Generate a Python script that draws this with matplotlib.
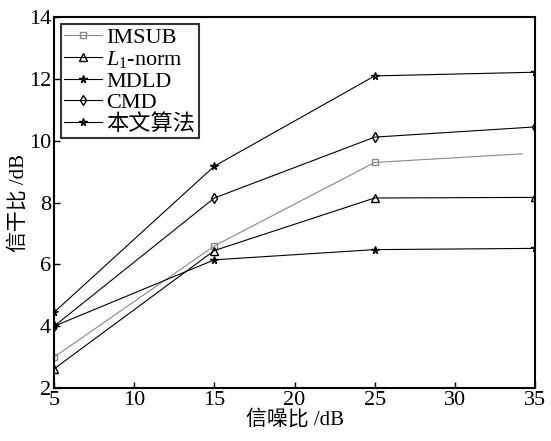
import matplotlib
matplotlib.use("Agg")
import matplotlib.pyplot as plt

snr = [5, 15, 25, 35]
imsub_snr = [5, 15, 25, 34.2]
imsub = [3.0, 6.6, 9.3, 9.58]
l1norm = [2.62, 6.45, 8.15, 8.17]
mdld = [4.0, 6.15, 6.48, 6.52]
cmd = [4.0, 8.15, 10.12, 10.45]
ours = [4.45, 9.18, 12.1, 12.22]
labels = ["IMSUB", r"$L_1$-norm", "MDLD", "CMD", "本文算法"]

plt.rcParams['font.family'] = ['Liberation Serif', 'Noto Sans CJK SC']
plt.rcParams['mathtext.fontset'] = 'custom'
plt.rcParams['mathtext.it'] = 'Liberation Serif:italic'
plt.rcParams['mathtext.rm'] = 'Liberation Serif'

fig = plt.figure(figsize=(5.51, 4.41), dpi=100)
ax = fig.add_axes([0.098, 0.12, 0.873, 0.841])

ms = 4.5
ax.plot(imsub_snr, imsub, color='#888888', lw=0.8, marker='s', ms=ms, mfc='none', mec='#888888', markevery=[0, 1, 2], label=labels[0])
ax.plot(snr, l1norm, color='black', lw=0.8, marker='^', ms=ms+1, mfc='none', label=labels[1])
ax.plot(snr, mdld, color='black', lw=0.8, marker='*', ms=ms+1, label=labels[2])
ax.plot(snr, cmd, color='black', lw=0.8, marker='d', ms=ms+1, mfc='none', label=labels[3])
ax.plot(snr, ours, color='black', lw=0.8, marker='*', ms=ms+1, mfc='none', label=labels[4])

ax.set_xlim(5, 35)
ax.set_ylim(2, 14)
ax.set_xticks([5, 10, 15, 20, 25, 30, 35])
ax.set_yticks([2, 4, 6, 8, 10, 12, 14])
ax.tick_params(direction='in', labelsize=16, length=4, width=1, pad=2)
for s in ax.spines.values():
    s.set_linewidth(1.5)
ax.set_xlabel("信噪比 /dB", fontsize=15, labelpad=0)
ax.set_ylabel("信干比 /dB", fontsize=15, labelpad=0)

leg = ax.legend(loc='upper left', fontsize=16, frameon=True, fancybox=False,
                edgecolor='black', handlelength=1.7, handletextpad=0.2,
                borderpad=0.15, labelspacing=0.05, borderaxespad=0.3)
leg.get_frame().set_linewidth(1.5)

fig.savefig("out.png", dpi=100)
